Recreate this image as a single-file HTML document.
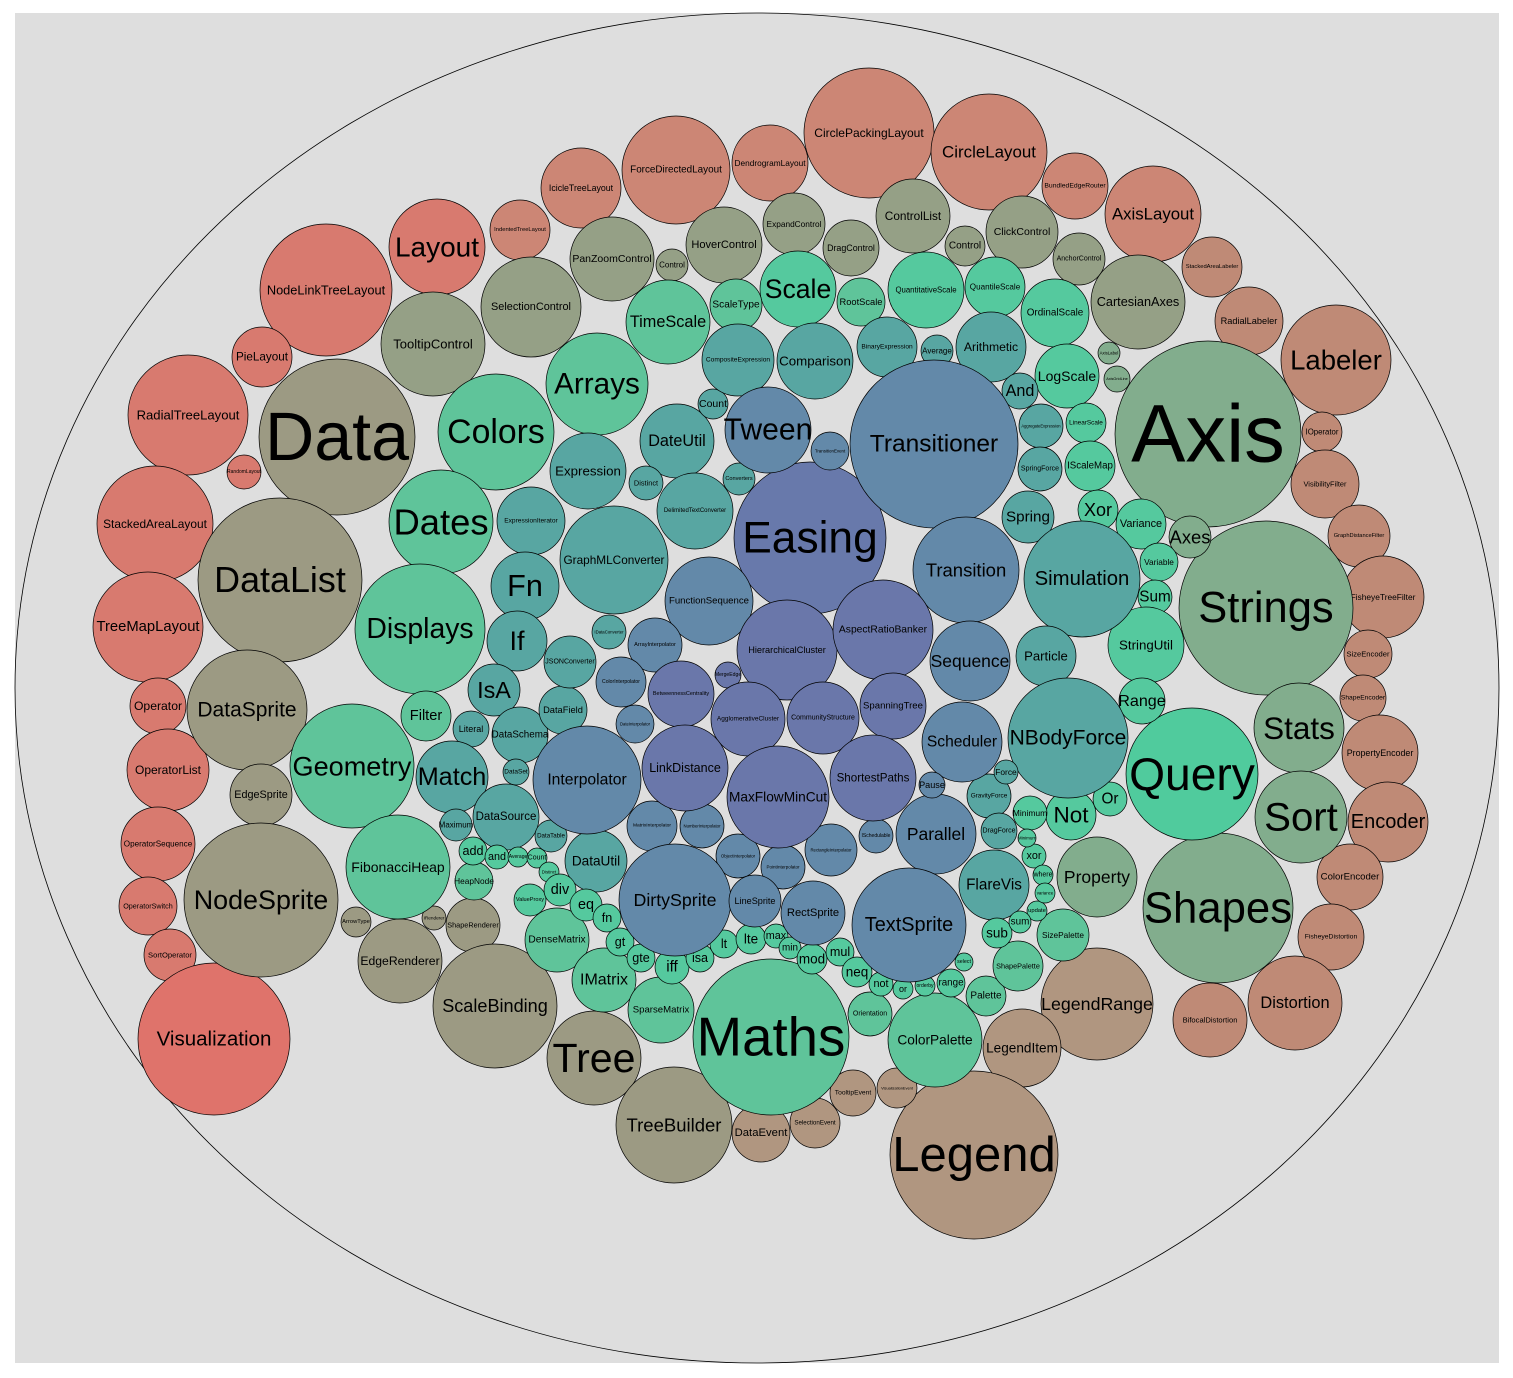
<!DOCTYPE html>
<html><head><meta charset="utf-8"><title>Flare bubble chart</title>
<style>
html,body{margin:0;padding:0;background:#fff;}
svg{display:block;}
text{font-family:"Liberation Sans",Arial,sans-serif;text-anchor:middle;dominant-baseline:central;fill:#000;}
</style></head>
<body>
<svg id="chart" width="1513" height="1378" viewBox="0 0 1513 1378">
<rect x="15" y="13" width="1484" height="1350" fill="#dedede"/>
<ellipse cx="757" cy="688" rx="742" ry="675" fill="#dedede" stroke="#000" stroke-width="0.8"/>
<g id="nodes"></g>
</svg>
<script>
const names=["CirclePackingLayout","CircleLayout","ForceDirectedLayout","DendrogramLayout","IcicleTreeLayout","IndentedTreeLayout","Layout","NodeLinkTreeLayout","PieLayout","RadialTreeLayout","RandomLayout","StackedAreaLayout","TreeMapLayout","BundledEdgeRouter","AxisLayout","StackedAreaLabeler","RadialLabeler","Labeler",
"Operator","OperatorList","OperatorSequence","OperatorSwitch","SortOperator","Visualization",
"IOperator","VisibilityFilter","GraphDistanceFilter","FisheyeTreeFilter","SizeEncoder","ShapeEncoder","PropertyEncoder","Encoder","ColorEncoder","FisheyeDistortion","Distortion","BifocalDistortion","LegendRange","LegendItem","Legend","SelectionEvent","TooltipEvent","VisualizationEvent","DataEvent",
"Data","DataList","DataSprite","EdgeSprite","NodeSprite","ArrowType","EdgeRenderer","ShapeRenderer","IRenderer","ScaleBinding","Tree","TreeBuilder",
"TooltipControl","SelectionControl","PanZoomControl","Control","HoverControl","ExpandControl","DragControl","ControlList","Control","ClickControl","AnchorControl","CartesianAxes",
"Axis","Strings","Stats","Sort","Shapes","Property","Axes","AxisLabel","AxisGridLine",
"Query","Colors","Arrays","Dates","Displays","Geometry","Filter","FibonacciHeap","HeapNode","DenseMatrix","IMatrix","SparseMatrix","Maths","ColorPalette","Palette","Orientation","ShapePalette","SizePalette",
"TimeScale","Scale","ScaleType","RootScale","QuantitativeScale","QuantileScale","OrdinalScale","LogScale","LinearScale","IScaleMap","Variance","Variable","Sum","StringUtil","Range","Not","Or","Xor","Minimum",
"Expression","ExpressionIterator","Fn","If","IsA","Literal","Match","DateUtil","Distinct","Count","CompositeExpression","Comparison","BinaryExpression","Average","Arithmetic","And","AggregateExpression","SpringForce","Spring","Simulation","Particle","NBodyForce","GravityForce","DragForce","Force","FlareVis",
"DataSchema","DataSet","DataSource","Maximum","DataField","DataTable","DataUtil","JSONConverter","GraphMLConverter","IDataConverter","DelimitedTextConverter","Converters",
"add","and","Average","Count","Distinct","ValueProxy","div","eq","fn","gt","gte","iff","isa","lt","lte","max","min","mod","mul","neq","not","or","xor","where","update","select","sub","sum","range","orderby","variance","Minimum",
"Easing","Transitioner","Tween","TransitionEvent","Transition","Sequence","Scheduler","Parallel","Pause","ISchedulable","FunctionSequence","Interpolator","ArrayInterpolator","ColorInterpolator","DateInterpolator","MatrixInterpolator","NumberInterpolator","ObjectInterpolator","PointInterpolator","RectangleInterpolator","DirtySprite","LineSprite","RectSprite","TextSprite",
"HierarchicalCluster","AspectRatioBanker","BetweennessCentrality","MergeEdge","AgglomerativeCluster","CommunityStructure","SpanningTree","LinkDistance","MaxFlowMinCut","ShortestPaths"];
const groups=["L","L","L","L","L","L","R","R","R","R","R","R","R","L","L","S","S","S",
"R","R","R","R","R","V",
"S","S","S","S","S","S","S","S","S","S","S","S","B","B","B","B","B","B","B",
"G","G","G","G","G","G","G","G","G","G","G","G",
"O","O","O","O","O","O","O","O","O","O","O","O",
"A","A","A","A","A","A","A","A","A",
"Q","T","T","T","T","T","T","T","T","T","T","T","T","T","T","T","T","T",
"T","K","T","T","K","K","K","K","K","K","K","K","K","K","K","K","K","K","K",
"C","C","C","C","C","C","C","C","C","C","C","C","C","C","C","C","C","C","C","C","C","C","C","C","C","C",
"C","C","C","C","C","C","C","C","C","C","C","C",
"K","K","K","K","K","K","K","K","K","K","K","K","K","K","K","K","K","K","K","K","K","K","K","K","K","K","K","K","K","K","K","K",
"E","N","N","N","N","N","N","N","N","N","N","N","N","N","N","N","N","N","N","N","N","N","N","N",
"P","P","P","P","P","P","P","P","P","P"];
const values=[65,58,54,38,40,30,48,66,30,60,17,58,55,33,48,30,34,55,
28,41,37,29,26,76,
20,34,31,41,24,23,38,40,33,33,47,37,56,39,84,25,23,20,29,
78,82,60,31,77,15,42,27,12,62,47,58,
52,50,42,16,38,31,28,37,20,36,26,47,
93,87,45,46,75,40,21,11,13,
66,58,51,52,65,62,25,52,19,32,32,33,78,47,20,22,25,26,
42,38,26,24,38,30,34,32,20,25,25,19,17,38,23,25,17,20,17,
38,34,34,30,26,18,36,37,17,15,36,38,30,16,35,18,22,22,26,58,30,60,22,18,12,35,
28,13,33,16,24,16,31,26,54,17,38,16,
14,12,10,10,10,16,16,16,14,14,14,17,14,14,15,12,11,15,14,15,12,10,12,10,10,9,15,11,14,10,10,9,
76,84,43,19,53,40,40,40,13,17,44,54,27,25,19,25,22,22,22,26,56,26,32,57,
50,50,33,13,37,36,33,43,51,43];
const layoutX=[869,989,676,770,581,520,437,326,262,188,244,155,148,1075,1153,1212,1249,1336,
158,168,158,148,170,214,
1322,1325,1359,1383,1368,1363,1380,1388,1350,1331,1295,1210,1097,1022,974,815,853,897,761,
337,280,247,261,261,356,400,473,434,495,594,674,
433,531,612,672,724,794,851,913,965,1022,1079,1138,
1208,1266,1299,1301,1218,1097,1190,1109,1117,
1192,496,597,441,420,352,426,398,474,557,604,661,771,935,986,870,1018,1063,
668,798,736,861,926,995,1055,1067,1086,1090,1141,1159,1155,1146,1142,1071,1110,1098,1030,
588,531,525,517,494,471,452,677,646,713,738,815,887,937,991,1020,1041,1040,1028,1082,1046,1068,989,999,1006,994,
520,516,506,456,563,551,596,570,614,609,695,739,
473,497,518,537,549,530,560,586,607,620,641,672,700,724,751,776,790,812,840,857,881,903,1034,1043,1037,964,997,1020,951,925,1045,1027,
810,934,768,830,966,970,962,936,932,876,709,587,655,621,635,652,702,738,783,831,675,755,813,909,
787,883,681,728,748,823,893,685,778,873];
const layoutY=[133,152,170,163,188,230,247,290,357,415,472,524,627,186,214,267,321,360,
706,770,844,906,955,1039,
432,484,536,597,654,698,753,822,877,937,1003,1020,1004,1048,1155,1123,1093,1088,1133,
437,580,710,795,900,922,961,925,918,1006,1058,1125,
344,307,259,265,245,224,248,216,246,232,259,302,
434,608,728,817,908,877,537,353,379,
774,432,384,522,629,766,716,867,881,940,980,1010,1037,1040,996,1014,966,935,
322,289,305,302,290,287,313,376,423,466,524,562,597,645,701,815,799,510,813,
471,521,586,641,690,729,777,441,483,404,360,361,347,351,347,391,426,469,517,579,656,738,796,831,772,885,
735,772,817,825,710,836,861,662,560,632,511,479,
851,857,857,858,872,900,890,905,918,942,958,967,958,944,939,936,948,959,952,972,984,989,856,875,911,962,933,922,983,986,893,838,
538,444,430,451,570,661,742,834,785,836,601,780,645,682,724,826,826,856,867,850,900,901,913,925,
650,630,694,675,719,718,706,768,797,778];
const palette={L:"#cc8675",R:"#d87a6f",V:"#df736b",S:"#bf8a76",B:"#b09680",G:"#9c9a83",O:"#95a086",A:"#82ad8d",Q:"#50cb9d",T:"#5fc49a",K:"#55c99e",C:"#58a6a2",N:"#6389a9",E:"#6879ab",P:"#6a77aa"};
const rScale=v=>v;
const g=document.getElementById('nodes');
const NS="http://www.w3.org/2000/svg";
for(let i=0;i<names.length;i++){
  const r=rScale(values[i]);
  const c=document.createElementNS(NS,'circle');
  c.setAttribute('cx',layoutX[i]);c.setAttribute('cy',layoutY[i]);c.setAttribute('r',r);
  c.setAttribute('fill',palette[groups[i]]);c.setAttribute('stroke','#000');c.setAttribute('stroke-width','0.7');
  
  
  g.appendChild(c);
  const t=document.createElementNS(NS,'text');
  const fs=Math.min(r*0.9,2*r*0.98/(names[i].length*0.56));
  t.setAttribute('x',layoutX[i]);t.setAttribute('y',layoutY[i]);
  t.setAttribute('font-size',fs.toFixed(1));
  t.textContent=names[i];
  
  
  g.appendChild(t);
}
</script>
</body></html>
